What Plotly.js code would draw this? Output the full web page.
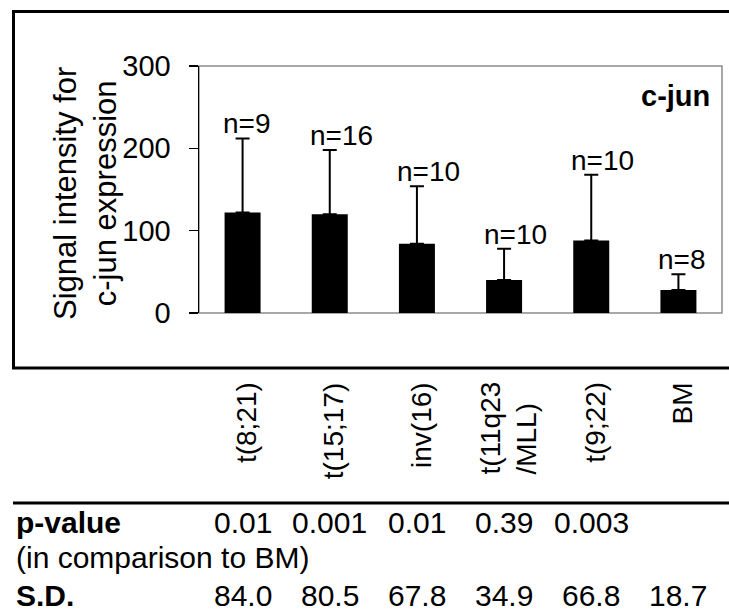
<!DOCTYPE html>
<html>
<head>
<meta charset="utf-8">
<script src="https://cdn.plot.ly/plotly-3.0.1.min.js"></script>
<style>
  html, body { margin: 0; padding: 0; background: #ffffff; }
  #chart { width: 729px; height: 616px; }
</style>
</head>
<body>
<div id="chart"></div>
<script>
// ---- data ----
const categories = ['t(8;21)', 't(15;17)', 'inv(16)', 't(11q23/MLL)', 't(9;22)', 'BM'];
const categoryLabels = ['t(8;21)', 't(15;17)', 'inv(16)', 't(11q23<br>/MLL)', 't(9;22)', 'BM'];
const meanValues = [122, 120, 84, 40, 88, 28];
const errorUpper = [90, 78, 70, 38, 80, 19];
const nLabels = ['n=9', 'n=16', 'n=10', 'n=10', 'n=10', 'n=8'];
const pValues = ['0.01', '0.001', '0.01', '0.39', '0.003', ''];
const sdValues = ['84.0', '80.5', '67.8', '34.9', '66.8', '18.7'];
const yTickValues = [0, 100, 200, 300];
const yTitleLines = ['Signal intensity for', 'c-jun expression'];
const geneLabel = 'c-jun';
const rowLabels = ['p-value', '(in comparison to BM)', 'S.D.'];

// ---- geometry helpers (pixels -> paper) ----
const W = 729, H = 616;
const M = { l: 199, r: 7, t: 66, b: 303 };
const PW = W - M.l - M.r, PH = H - M.t - M.b;
const px = x => (x - M.l) / PW;
const py = y => (H - M.b - y) / PH;

const FONT = 'Liberation Sans, Arial, Helvetica, sans-serif';

const trace = {
  type: 'bar',
  x: categories,
  y: meanValues,
  marker: { color: '#000000', line: { width: 0 } },
  error_y: {
    type: 'data',
    symmetric: false,
    array: errorUpper,
    arrayminus: errorUpper.map(() => 0),
    color: '#000000',
    thickness: 2,
    width: 7
  },
  hoverinfo: 'skip'
};

const annotations = [];

// n labels above error bars
categories.forEach((c, i) => {
  annotations.push({
    xref: 'x', yref: 'y', x: c, y: meanValues[i] + errorUpper[i],
    text: nLabels[i], showarrow: false,
    xanchor: 'left', yanchor: 'bottom', xshift: -22, yshift: -3,
    font: { family: FONT, size: 28, color: '#000' }
  });
});

// category labels (rotated)
categories.forEach((c, i) => {
  annotations.push({
    xref: 'x', yref: 'paper', x: c, y: 0,
    text: categoryLabels[i], showarrow: false, textangle: -90,
    xanchor: 'center', yanchor: 'top', yshift: -67, xshift: 4, align: 'left',
    font: { family: FONT, size: 28, color: '#000' }
  });
});

// y axis title (two lines, rotated)
annotations.push({
  xref: 'paper', yref: 'paper', x: px(85), y: py(194),
  text: yTitleLines.join('<br>'), showarrow: false, textangle: -90,
  xanchor: 'center', yanchor: 'middle',
  font: { family: FONT, size: 31, color: '#000' }
});

// gene label
annotations.push({
  xref: 'paper', yref: 'paper', x: px(712), y: py(96),
  text: '<b>' + geneLabel + '</b>', showarrow: false,
  xanchor: 'right', yanchor: 'middle',
  font: { family: FONT, size: 29, color: '#000' }
});

// table row labels
const rowY = [522, 557, 595];
const TFS = 30;
annotations.push({
  xref: 'paper', yref: 'paper', x: px(14), y: py(rowY[0]),
  text: '<b>' + rowLabels[0] + '</b>', showarrow: false,
  xanchor: 'left', yanchor: 'middle', font: { family: FONT, size: TFS, color: '#000' }
});
annotations.push({
  xref: 'paper', yref: 'paper', x: px(14), y: py(rowY[1]),
  text: rowLabels[1], showarrow: false,
  xanchor: 'left', yanchor: 'middle', font: { family: FONT, size: TFS, color: '#000' }
});
annotations.push({
  xref: 'paper', yref: 'paper', x: px(14), y: py(rowY[2]),
  text: '<b>' + rowLabels[2] + '</b>', showarrow: false,
  xanchor: 'left', yanchor: 'middle', font: { family: FONT, size: TFS, color: '#000' }
});

// table values
categories.forEach((c, i) => {
  if (pValues[i]) {
    annotations.push({
      xref: 'x', yref: 'paper', x: c, y: py(rowY[0]),
      text: pValues[i], showarrow: false,
      xanchor: 'center', yanchor: 'middle', font: { family: FONT, size: TFS, color: '#000' }
    });
  }
  annotations.push({
    xref: 'x', yref: 'paper', x: c, y: py(rowY[2]),
    text: sdValues[i], showarrow: false,
    xanchor: 'center', yanchor: 'middle', font: { family: FONT, size: TFS, color: '#000' }
  });
});

const shapes = [
  // plot area gray border
  { type: 'rect', xref: 'paper', yref: 'paper', x0: 0, x1: 1, y0: 0, y1: 1,
    line: { color: '#8c8c8c', width: 1.5 }, layer: 'below' },
  // outer frame
  { type: 'rect', xref: 'paper', yref: 'paper', x0: px(13.5), x1: px(745), y0: py(368), y1: py(11.5),
    line: { color: '#000', width: 3 } },
  // table separator line
  { type: 'line', xref: 'paper', yref: 'paper', x0: px(13), x1: px(745), y0: py(503), y1: py(503),
    line: { color: '#000', width: 3 } }
];

const layout = {
  width: W, height: H,
  margin: M,
  paper_bgcolor: '#ffffff', plot_bgcolor: '#ffffff',
  showlegend: false,
  bargap: 0.587,
  xaxis: {
    type: 'category',
    showticklabels: false, ticks: '', showgrid: false, zeroline: false,
    showline: false, fixedrange: true
  },
  yaxis: {
    range: [0, 300], tickvals: yTickValues, showgrid: false, zeroline: false,
    showline: true, linecolor: '#000', linewidth: 1.5,
    ticks: 'outside', ticklen: 9, tickwidth: 1.5, tickcolor: '#000',
    ticklabelstandoff: 12,
    tickfont: { family: FONT, size: 29, color: '#000' },
    fixedrange: true
  },
  annotations: annotations,
  shapes: shapes
};

Plotly.newPlot('chart', [trace], layout, { staticPlot: true, displayModeBar: false });
</script>
</body>
</html>
